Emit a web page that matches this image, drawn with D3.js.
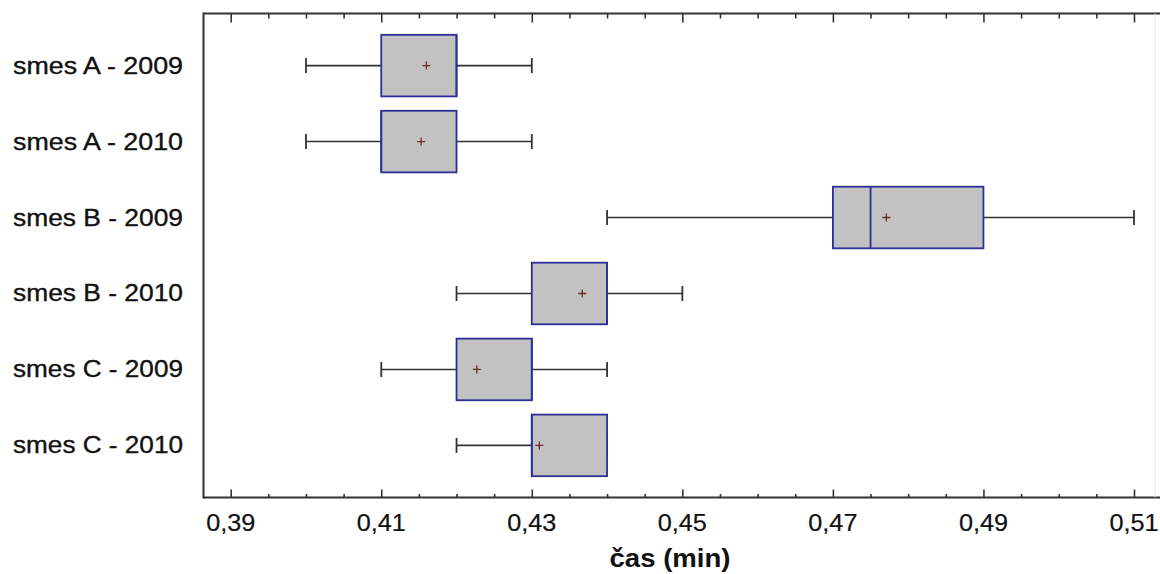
<!DOCTYPE html>
<html>
<head>
<meta charset="utf-8">
<script src="https://cdnjs.cloudflare.com/ajax/libs/d3/7.8.5/d3.min.js"></script>
<style>
  body { margin: 0; background: #fff; }
  svg { display: block; }
</style>
</head>
<body>
<div id="chart"></div>
<script>
// data
var categories = ["smes A - 2009", "smes A - 2010", "smes B - 2009", "smes B - 2010", "smes C - 2009", "smes C - 2010"];
var mins    = [0.40, 0.40, 0.44, 0.42, 0.41, 0.42];
var q1s     = [0.41, 0.41, 0.47, 0.43, 0.42, 0.43];
var medians = [0.42, 0.41, 0.475, 0.44, 0.43, 0.43];
var q3s     = [0.42, 0.42, 0.49, 0.44, 0.43, 0.44];
var maxs    = [0.43, 0.43, 0.51, 0.45, 0.44, 0.44];
var means   = [0.4160, 0.4153, 0.4771, 0.4367, 0.4227, 0.4310];
var majorTicks = [0.39, 0.41, 0.43, 0.45, 0.47, 0.49, 0.51];
var axisTitle = "čas (min)";

var W = 1160, H = 574;
var plotLeft = 203.5, plotRight = 1155, plotTop = 13.5, plotBottom = 497.5;

var svg = d3.select("#chart").append("svg")
    .attr("width", W).attr("height", H);

// scales
var x = d3.scaleLinear().domain([0.39, 0.51]).range([230.7, 1134]);
var y = d3.scalePoint().domain(categories).range([plotTop, plotBottom]).padding(0.686);
var boxH = 61.6;

var rows = categories.map(function(c, i) {
    return { cat: c, min: mins[i], q1: q1s[i], med: medians[i], q3: q3s[i], max: maxs[i], mean: means[i] };
});

// minor ticks every 0.005
var minorTicks = d3.range(0, 25).map(function(i) { return +(0.39 + i * 0.005).toFixed(3); })
    .filter(function(v) { return majorTicks.indexOf(v) < 0; });

var axisColor = "#333";

// top axis, ticks pointing down
var gTop = svg.append("g").attr("transform", "translate(0," + plotTop + ")");
gTop.call(d3.axisBottom(x).tickValues(majorTicks).tickSize(9).tickFormat(""));
gTop.append("g").call(d3.axisBottom(x).tickValues(minorTicks).tickSize(5).tickFormat(""));

// bottom axis, ticks pointing up
var gBot = svg.append("g").attr("transform", "translate(0," + plotBottom + ")");
gBot.call(d3.axisTop(x).tickValues(majorTicks).tickSize(8).tickFormat(""));
gBot.append("g").call(d3.axisTop(x).tickValues(minorTicks).tickSize(3.5).tickFormat(""));

svg.selectAll(".domain").remove();
svg.selectAll(".tick line").attr("stroke", axisColor).attr("stroke-width", 1.6);

// frame
svg.append("line").attr("x1", plotLeft).attr("x2", W).attr("y1", plotTop).attr("y2", plotTop)
    .attr("stroke", axisColor).attr("stroke-width", 2);
svg.append("line").attr("x1", plotLeft).attr("x2", W).attr("y1", plotBottom).attr("y2", plotBottom)
    .attr("stroke", axisColor).attr("stroke-width", 2);
svg.append("line").attr("x1", plotLeft).attr("x2", plotLeft).attr("y1", plotTop - 1).attr("y2", plotBottom + 1)
    .attr("stroke", axisColor).attr("stroke-width", 2);
svg.append("line").attr("x1", plotRight).attr("x2", plotRight).attr("y1", plotTop).attr("y2", plotBottom)
    .attr("stroke", "#e4e4e4").attr("stroke-width", 1);

// tick labels
var tickLab = svg.append("g").selectAll("text").data(majorTicks).join("text")
    .attr("x", function(d) { return x(d); })
    .attr("y", 531)
    .attr("text-anchor", "middle")
    .attr("font-family", "Liberation Sans, Arial, sans-serif")
    .attr("font-size", 24.5)
    .attr("fill", "#111")
    .attr("stroke", "#111").attr("stroke-width", 0.2)
    .text(function(d) { return d3.format(".2f")(d).replace(".", ","); });
tickLab.each(function() {
    var w = this.getComputedTextLength();
    d3.select(this).attr("textLength", w * 1.03).attr("lengthAdjust", "spacingAndGlyphs");
});

// axis title
var t = svg.append("text")
    .attr("x", 670).attr("y", 567)
    .attr("text-anchor", "middle")
    .attr("font-family", "Liberation Sans, Arial, sans-serif")
    .attr("font-size", 26.5)
    .attr("font-weight", "bold")
    .attr("fill", "#111")
    .text(axisTitle);
t.attr("textLength", t.node().getComputedTextLength() * 1.04).attr("lengthAdjust", "spacingAndGlyphs");

// category labels
var catLab = svg.append("g").selectAll("text").data(categories).join("text")
    .attr("x", 183)
    .attr("y", function(d) { return y(d) + 8; })
    .attr("text-anchor", "end")
    .attr("font-family", "Liberation Sans, Arial, sans-serif")
    .attr("font-size", 23)
    .attr("fill", "#111")
    .attr("stroke", "#111").attr("stroke-width", 0.35)
    .text(function(d) { return d; });
catLab.each(function() {
    var w = this.getComputedTextLength();
    d3.select(this).attr("textLength", 170).attr("lengthAdjust", "spacingAndGlyphs");
});

// boxes
var boxStroke = "#2e2e96", whiskerColor = "#333";
var g = svg.append("g").selectAll("g").data(rows).join("g");

// whiskers
g.append("line")
    .attr("x1", function(d) { return x(d.min); }).attr("x2", function(d) { return x(d.q1); })
    .attr("y1", function(d) { return y(d.cat); }).attr("y2", function(d) { return y(d.cat); })
    .attr("stroke", whiskerColor).attr("stroke-width", 1.6);
g.append("line")
    .attr("x1", function(d) { return x(d.q3); }).attr("x2", function(d) { return x(d.max); })
    .attr("y1", function(d) { return y(d.cat); }).attr("y2", function(d) { return y(d.cat); })
    .attr("stroke", whiskerColor).attr("stroke-width", 1.6);
// caps
["min", "max"].forEach(function(k) {
    g.append("line")
        .attr("x1", function(d) { return x(d[k]); }).attr("x2", function(d) { return x(d[k]); })
        .attr("y1", function(d) { return y(d.cat) - 7.5; }).attr("y2", function(d) { return y(d.cat) + 7.5; })
        .attr("stroke", whiskerColor).attr("stroke-width", 1.8);
});

g.append("rect")
    .attr("x", function(d) { return x(d.q1); })
    .attr("width", function(d) { return x(d.q3) - x(d.q1); })
    .attr("y", function(d) { return y(d.cat) - boxH / 2; })
    .attr("height", boxH)
    .attr("fill", "#c2c2c2")
    .attr("stroke", boxStroke).attr("stroke-width", 1.8);

// median
g.append("line")
    .attr("x1", function(d) { return x(d.med); }).attr("x2", function(d) { return x(d.med); })
    .attr("y1", function(d) { return y(d.cat) - boxH / 2; })
    .attr("y2", function(d) { return y(d.cat) + boxH / 2; })
    .attr("stroke", boxStroke).attr("stroke-width", 1.8);

// mean marker
g.append("path")
    .attr("d", function(d) {
        var cx = x(d.mean), cy = y(d.cat), s = 4;
        return "M" + (cx - s) + "," + cy + "H" + (cx + s) + "M" + cx + "," + (cy - s) + "V" + (cy + s);
    })
    .attr("stroke", "#6a2a2a").attr("stroke-width", 1.3);
</script>
</body>
</html>
